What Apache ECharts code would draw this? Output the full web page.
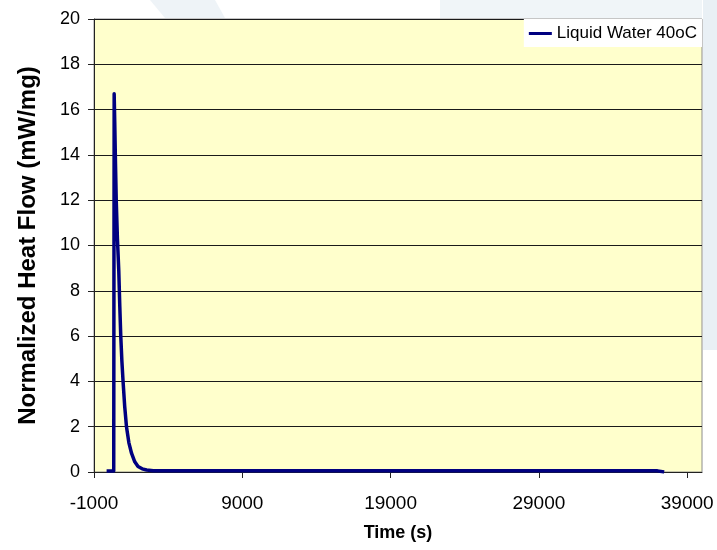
<!DOCTYPE html>
<html>
<head>
<meta charset="utf-8">
<title>Normalized Heat Flow - Liquid Water 40oC</title>
<script src="https://cdn.jsdelivr.net/npm/echarts@6/dist/echarts.min.js"></script>
<style>
  html, body { margin: 0; padding: 0; background: #fff; }
  #chart { width: 717px; height: 550px; }
</style>
</head>
<body>
<div id="chart"></div>
<script>
// time (s) and heat flow (mW/mg)
const timeS = [-150, 330, 360, 400, 450, 500, 580, 670, 740, 805, 880, 960, 1070, 1190, 1350, 1530, 1750, 1970, 2250, 2550, 3000, 4000, 6000, 10000, 15000, 20000, 25000, 30000, 35000, 37000, 37450];
const heatFlow = [0.04, 0.04, 16.7, 15.4, 13.6, 12.0, 10.3, 8.9, 7.3, 6.0, 4.9, 4.0, 2.9, 2.0, 1.3, 0.83, 0.45, 0.24, 0.14, 0.09, 0.06, 0.05, 0.05, 0.05, 0.05, 0.05, 0.05, 0.05, 0.05, 0.05, 0.0];
const seriesName = 'Liquid Water 40oC';
const xTicks = [-1000, 9000, 19000, 29000, 39000];

let points = [];
for (let i = 0; i < timeS.length; i++) {
  points.push([timeS[i], heatFlow[i]]);
}

let myChart = echarts.init(document.getElementById('chart'));

let option = {
  animation: false,
  backgroundColor: '#ffffff',
  textStyle: { fontFamily: 'Liberation Sans, Arial, sans-serif' },
  // faint watermark shapes behind the chart
  graphic: [
    { type: 'rect', z: -10, shape: { x: 703, y: 0, width: 14, height: 350 }, style: { fill: '#e9f0f5' } },
    { type: 'polygon', z: -10, shape: { points: [[150, 0], [215, 0], [225, 18], [165, 18]] }, style: { fill: '#eef3f7' } },
    { type: 'rect', z: -10, shape: { x: 440, y: 0, width: 262, height: 18 }, style: { fill: '#f0f5f8' } }
  ],
  legend: {
    data: [seriesName],
    right: 15,
    top: 19,
    padding: [6, 5, 5, 5],
    backgroundColor: '#ffffff',
    icon: 'rect',
    itemWidth: 23,
    itemHeight: 3,
    textStyle: { fontSize: 17, color: '#000' }
  },
  grid: {
    left: 94,
    right: 15,
    top: 19,
    bottom: 78,
    show: true,
    backgroundColor: '#ffffcc',
    borderColor: '#8c8c8c',
    borderWidth: 1
  },
  xAxis: {
    type: 'value',
    min: -1000,
    max: 40000,
    interval: 10000,
    name: 'Time (s)',
    nameLocation: 'middle',
    nameGap: 52,
    nameTextStyle: { fontSize: 18, fontWeight: 'bold', color: '#000' },
    axisLine: { show: true, lineStyle: { color: '#222', width: 1 } },
    axisTick: { show: true, length: 6, customValues: xTicks, lineStyle: { color: '#222' } },
    axisLabel: {
      fontSize: 19, color: '#000', margin: 22, customValues: xTicks,
      formatter: (val) => `${val}`
    },
    splitLine: { show: false }
  },
  yAxis: {
    type: 'value',
    min: 0,
    max: 20,
    interval: 2,
    name: 'Normalized Heat Flow (mW/mg)',
    nameLocation: 'middle',
    nameRotate: 90,
    nameGap: 54,
    nameTextStyle: { fontSize: 24, fontWeight: 'bold', color: '#000' },
    axisLine: { show: true, onZero: false, lineStyle: { color: '#222', width: 1 } },
    axisTick: { show: true, inside: false, length: 6, lineStyle: { color: '#222' } },
    axisLabel: { fontSize: 18, color: '#000', margin: 14 },
    splitLine: { show: true, lineStyle: { color: '#1a1a1a', width: 1 } }
  },
  series: [{
    name: seriesName,
    type: 'line',
    data: points,
    showSymbol: false,
    color: '#000080',
    lineStyle: { color: '#000080', width: 3.5, join: 'round' }
  }]
};

myChart.setOption(option);
</script>
</body>
</html>
